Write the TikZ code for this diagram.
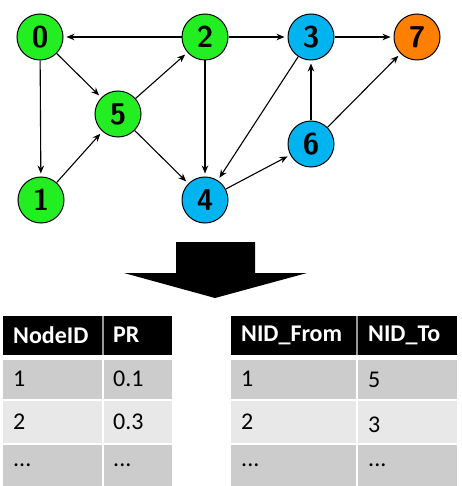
\documentclass[tikz,border=0pt]{standalone}
\usepackage{fontspec}
\newfontfamily\carlito{Carlito}
\usetikzlibrary{arrows.meta}
\definecolor{gnode}{HTML}{22EE22}
\definecolor{bnode}{HTML}{00B4F0}
\definecolor{onode}{HTML}{FF7F00}
\definecolor{rowdark}{HTML}{CCCCCC}
\definecolor{rowlight}{HTML}{E8E8E8}
\definecolor{sepgray}{HTML}{999999}
\tikzset{
  vert/.style={circle,draw=black,line width=1pt,minimum size=46pt,inner sep=0pt,
    font=\sffamily\bfseries\fontsize{30}{30}\selectfont},
  gv/.style={vert,fill=gnode},
  bv/.style={vert,fill=bnode},
  ov/.style={vert,fill=onode},
  edge/.style={line width=1.1pt,-{Stealth[length=8pt,width=6.5pt]},shorten >=3pt},
  hcell/.style={anchor=west,text=white,font=\carlito\bfseries\fontsize{24}{24}\selectfont,inner sep=0pt},
  bcell/.style={anchor=west,text=black,font=\carlito\fontsize{24}{24}\selectfont,inner sep=0pt},
}
\begin{document}
\begin{tikzpicture}[x=1pt,y=-1pt]
\useasboundingbox (0,0) rectangle (461,486);
% graph
\node[gv] (n0) at (40,37) {0};
\node[gv] (n2) at (205,37) {2};
\node[bv] (n3) at (311,37) {3};
\node[ov] (n7) at (417,37) {7};
\node[gv] (n5) at (118,114) {5};
\node[bv] (n6) at (311,144) {6};
\node[gv] (n1) at (41,200) {1};
\node[bv] (n4) at (205,200) {4};
\draw[edge] (n2) -- (n0);
\draw[edge] (n2) -- (n3);
\draw[edge] (n3) -- (n7);
\draw[edge] (n0) -- (n5);
\draw[edge] (n0) -- (n1);
\draw[edge] (n1) -- (n5);
\draw[edge] (n5) -- (n2);
\draw[edge] (n5) -- (n4);
\draw[edge] (n2) -- (n4);
\draw[edge] (n3) -- (n4);
\draw[edge] (n4) -- (n6);
\draw[edge] (n6) -- (n3);
\draw[edge] (n6) -- (n7);
% big arrow
\fill[black] (176,242) -- (255,242) -- (255,273) -- (307,273) -- (215,298) -- (124,273) -- (176,273) -- cycle;
% left table
\fill[black] (3,316) rectangle (172,355);
\fill[sepgray] (102,316) rectangle (104,355);
\fill[rowdark] (3,360) rectangle (102,399);
\fill[rowdark] (104,360) rectangle (172,399);
\fill[rowlight] (3,401) rectangle (102,443);
\fill[rowlight] (104,401) rectangle (172,443);
\fill[rowdark] (3,445) rectangle (102,486);
\fill[rowdark] (104,445) rectangle (172,486);
\node[hcell] (lh1) at (13,335) {NodeID};
\node[hcell] (lh2) at (113,335) {PR};
\node[bcell] (l11) at (13,379) {1};
\node[bcell] (l12) at (113,379) {0.1};
\node[bcell] (l21) at (13,422) {2};
\node[bcell] (l22) at (113,422) {0.3};
\node[bcell] (l31) at (13,465) {...};
\node[bcell] (l32) at (113,465) {...};
% right table
\fill[black] (231,316) rectangle (457,355);
\fill[sepgray] (356,316) rectangle (358,355);
\fill[rowdark] (231,360) rectangle (356,399);
\fill[rowdark] (358,360) rectangle (457,399);
\fill[rowlight] (231,401) rectangle (356,443);
\fill[rowlight] (358,401) rectangle (457,443);
\fill[rowdark] (231,445) rectangle (356,486);
\fill[rowdark] (358,445) rectangle (457,486);
\node[hcell] (rh1) at (241,335) {NID\_From};
\node[hcell] (rh2) at (368,335) {NID\_To};
\node[bcell] (r11) at (241,379) {1};
\node[bcell] (r12) at (368,380) {5};
\node[bcell] (r21) at (241,422) {2};
\node[bcell] (r22) at (368,425) {3};
\node[bcell] (r31) at (241,465) {...};
\node[bcell] (r32) at (368,465) {...};
\end{tikzpicture}
\end{document}
